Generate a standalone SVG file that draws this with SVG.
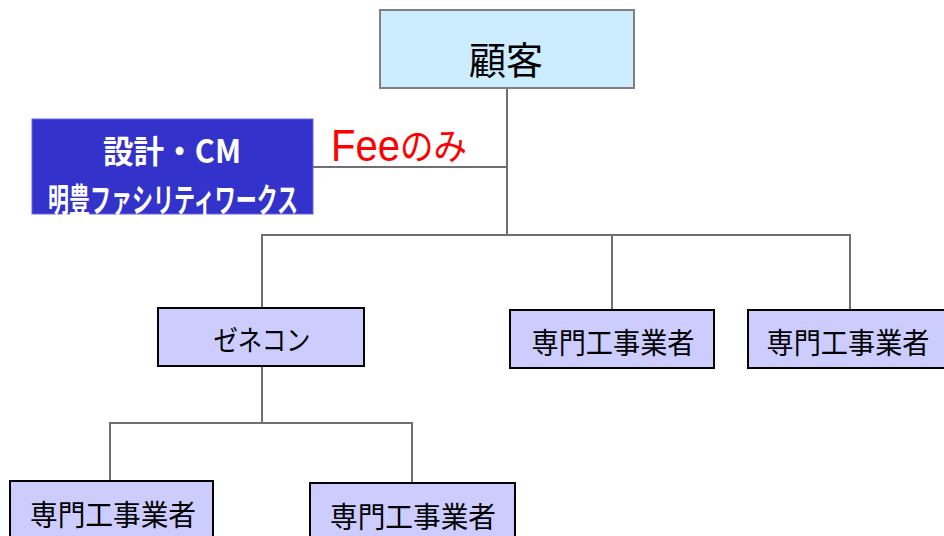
<svg xmlns="http://www.w3.org/2000/svg" width="944" height="536" viewBox="0 0 944 536">
<style>
.conn{stroke:#707070;stroke-width:2;fill:none}
.cust{fill:#CCECFF;stroke:#808080;stroke-width:2}
.sub{fill:#CCCCFF;stroke:#000;stroke-width:2}
.cm{fill:#3333CC;stroke:#6666DD;stroke-width:1}
.jp{font-family:"Noto Sans CJK JP","Noto Sans CJK SC",sans-serif;fill:#000;text-anchor:middle;dominant-baseline:central}
.wt{font-family:"Noto Sans CJK JP","Noto Sans CJK SC",sans-serif;fill:#fff;font-weight:bold;text-anchor:middle;dominant-baseline:central}
</style>
<rect width="944" height="536" fill="#fff"/>
<g id="connectors">
<polyline class="conn" points="507,88 507,236"/>
<polyline class="conn" points="313,167 507,167"/>
<polyline class="conn" points="262,308 262,235 850,235 850,310"/>
<polyline class="conn" points="612,235 612,310"/>
<polyline class="conn" points="262,366 262,423"/>
<polyline class="conn" points="110,481 110,423 412,423 412,483"/>
</g>
<g id="customer">
<rect class="cust" x="380" y="10" width="254" height="78"/>
<text class="jp" x="506" y="57" font-size="38" textLength="74" lengthAdjust="spacingAndGlyphs">顧客</text>
</g>
<g id="cm">
<rect class="cm" x="32" y="119" width="281" height="95"/>
<text class="wt" x="172" y="149" font-size="32" textLength="138" lengthAdjust="spacingAndGlyphs">設計・CM</text>
<text class="wt" x="173" y="198" font-size="33" textLength="250" lengthAdjust="spacingAndGlyphs">明豊ファシリティワークス</text>
</g>
<g id="fee">
<text fill="#FF0000" font-family="'Liberation Sans','Noto Sans CJK JP',sans-serif"><tspan x="331" y="161" font-size="44" textLength="69" lengthAdjust="spacingAndGlyphs">Fee</tspan><tspan x="400" y="160" font-size="37" font-family="'Noto Sans CJK JP',sans-serif" textLength="67" lengthAdjust="spacingAndGlyphs">のみ</tspan></text>
</g>
<g id="genecon">
<rect class="sub" x="158" y="308" width="206" height="58"/>
<text class="jp" x="262" y="339" font-size="28" textLength="97" lengthAdjust="spacingAndGlyphs">ゼネコン</text>
</g>
<g id="sub1">
<rect class="sub" x="510" y="310" width="204" height="58"/>
<text class="jp" x="613" y="341" font-size="29" textLength="163" lengthAdjust="spacingAndGlyphs">専門工事業者</text>
</g>
<g id="sub2">
<rect class="sub" x="748" y="310" width="202" height="58"/>
<text class="jp" x="848" y="341" font-size="29" textLength="163" lengthAdjust="spacingAndGlyphs">専門工事業者</text>
</g>
<g id="sub3">
<rect class="sub" x="10" y="481" width="203" height="62"/>
<text class="jp" x="113" y="513" font-size="29" textLength="166" lengthAdjust="spacingAndGlyphs">専門工事業者</text>
</g>
<g id="sub4">
<rect class="sub" x="310" y="483" width="205" height="62"/>
<text class="jp" x="413" y="515" font-size="29" textLength="166" lengthAdjust="spacingAndGlyphs">専門工事業者</text>
</g>
</svg>
